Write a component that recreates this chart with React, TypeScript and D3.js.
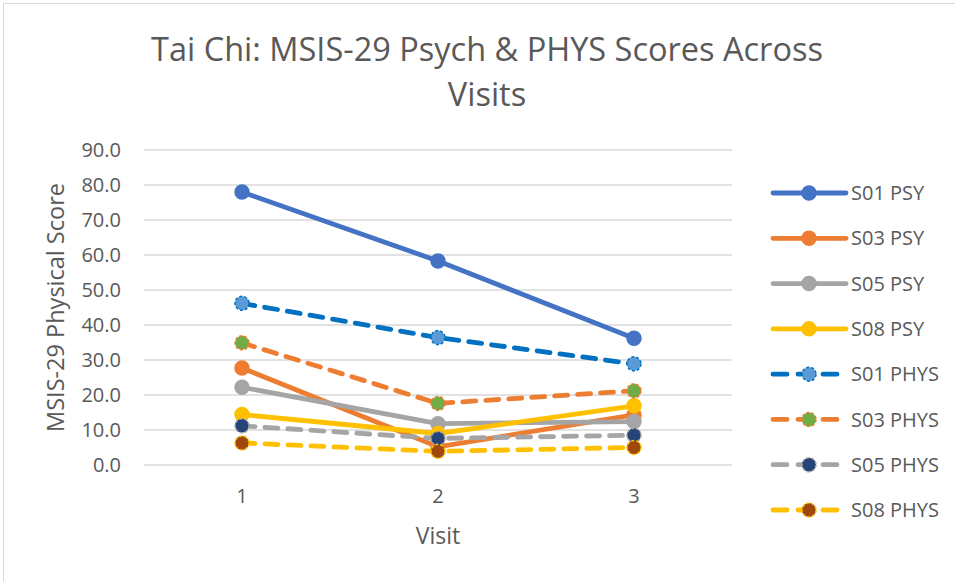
import React from "react";
import * as d3 from "d3";

// Visits on the x axis
const visits = ["1", "2", "3"];

// MSIS-29 psychological subscale scores per participant
const s01Psy = [78.0, 58.3, 36.2];
const s03Psy = [27.7, 5.2, 14.3];
const s05Psy = [22.2, 11.8, 12.4];
const s08Psy = [14.4, 9.0, 16.9];

// MSIS-29 physical subscale scores per participant
const s01Phys = [46.2, 36.4, 28.9];
const s03Phys = [34.9, 17.6, 21.2];
const s05Phys = [11.2, 7.6, 8.5];
const s08Phys = [6.3, 3.9, 5.0];

const yTicks = [0, 10, 20, 30, 40, 50, 60, 70, 80, 90];

type Series = {
  name: string;
  values: number[];
  line: string;
  fill: string;
  dashed: boolean;
};

const series: Series[] = [
  { name: "S01 PSY", values: s01Psy, line: "#4472C4", fill: "#4472C4", dashed: false },
  { name: "S03 PSY", values: s03Psy, line: "#ED7D31", fill: "#ED7D31", dashed: false },
  { name: "S05 PSY", values: s05Psy, line: "#A5A5A5", fill: "#A5A5A5", dashed: false },
  { name: "S08 PSY", values: s08Psy, line: "#FFC000", fill: "#FFC000", dashed: false },
  { name: "S01 PHYS", values: s01Phys, line: "#0070C0", fill: "#5B9BD5", dashed: true },
  { name: "S03 PHYS", values: s03Phys, line: "#ED7D31", fill: "#70AD47", dashed: true },
  { name: "S05 PHYS", values: s05Phys, line: "#A5A5A5", fill: "#264478", dashed: true },
  { name: "S08 PHYS", values: s08Phys, line: "#FFC000", fill: "#9E480E", dashed: true },
];

const W = 955;
const H = 582;
const FONT = "'Open Sans', sans-serif";
const TEXT = "#595959";
const GRID = "#D9D9D9";

const plot = { left: 144, right: 732, top: 150, bottom: 465 };

export default function App() {
  const x = d3
    .scalePoint<string>()
    .domain(visits)
    .range([plot.left, plot.right])
    .padding(0.5);
  const y = d3.scaleLinear().domain([0, 90]).range([plot.bottom, plot.top]);

  const line = d3
    .line<number>()
    .x((_, i) => x(visits[i]) as number)
    .y((d) => y(d));

  const lw = 4.8;
  const dash = "13 10";
  const r = 7;

  const legendX0 = 773;
  const legendX1 = 846;
  const legendMarker = 809;
  const legendY = d3
    .scalePoint<string>()
    .domain(series.map((s) => s.name))
    .range([193, 510]);

  return (
    <svg
      width={W}
      height={H}
      style={{ position: "absolute", left: 0, top: 0, background: "#fff" }}
      fontFamily={FONT}
    >
      <rect x={3.5} y={3.5} width={W + 10} height={H + 10} fill="#fff" stroke={GRID} />

      {/* title */}
      <text x={487} y={61} textAnchor="middle" fontSize={32.5} fill={TEXT}>
        Tai Chi: MSIS-29 Psych &amp; PHYS Scores Across
      </text>
      <text x={487} y={106} textAnchor="middle" fontSize={32.5} fill={TEXT}>
        Visits
      </text>

      {/* gridlines and y tick labels */}
      {yTicks.map((t) => (
        <g key={t}>
          <line x1={plot.left} x2={plot.right} y1={y(t)} y2={y(t)} stroke={GRID} strokeWidth={1.3} />
          <text x={121} y={y(t)} dy="0.36em" textAnchor="end" fontSize={20} fill={TEXT}>
            {t.toFixed(1)}
          </text>
        </g>
      ))}

      {/* x tick labels */}
      {visits.map((v) => (
        <text key={v} x={x(v)} y={496} dy="0.36em" textAnchor="middle" fontSize={20} fill={TEXT}>
          {v}
        </text>
      ))}

      {/* axis titles */}
      <text x={438} y={536} dy="0.36em" textAnchor="middle" fontSize={23} fill={TEXT}>
        Visit
      </text>
      <text
        transform={`translate(56,${(plot.top + plot.bottom) / 2}) rotate(-90)`}
        dy="0.36em"
        textAnchor="middle"
        fontSize={23.5}
        fill={TEXT}
      >
        MSIS-29 Physical Score
      </text>

      {/* series */}
      {series.map((s) => (
        <g key={s.name}>
          <path
            d={line(s.values) as string}
            fill="none"
            stroke={s.line}
            strokeWidth={lw}
            strokeLinecap="round"
            strokeLinejoin="round"
            strokeDasharray={s.dashed ? dash : undefined}
          />
          {s.values.map((v, i) => (
            <circle
              key={i}
              cx={x(visits[i])}
              cy={y(v)}
              r={r}
              fill={s.fill}
              stroke={s.line}
              strokeWidth={1.5}
              strokeDasharray={s.dashed ? "3 2" : undefined}
            />
          ))}
        </g>
      ))}

      {/* legend */}
      {series.map((s) => {
        const ly = legendY(s.name) as number;
        return (
          <g key={s.name}>
            <line
              x1={legendX0}
              x2={legendX1}
              y1={ly}
              y2={ly}
              stroke={s.line}
              strokeWidth={lw}
              strokeLinecap="round"
              strokeDasharray={s.dashed ? "14 11" : undefined}
            />
            <circle
              cx={legendMarker}
              cy={ly}
              r={r}
              fill={s.fill}
              stroke={s.line}
              strokeWidth={1.5}
              strokeDasharray={s.dashed ? "3 2" : undefined}
            />
            <text x={851} y={ly} dy="0.36em" fontSize={20} fill={TEXT}>
              {s.name}
            </text>
          </g>
        );
      })}
    </svg>
  );
}
